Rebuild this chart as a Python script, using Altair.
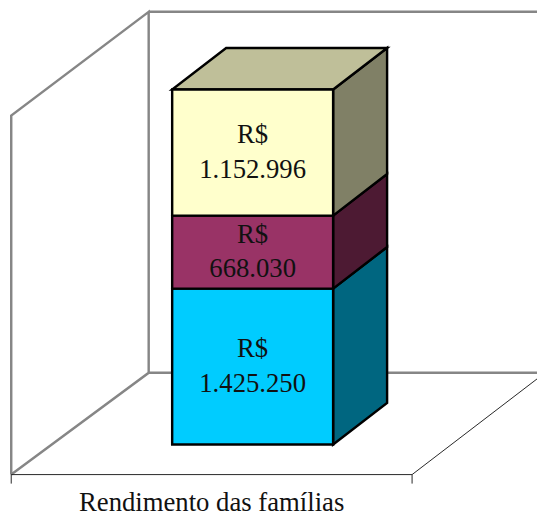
import altair as alt
import pandas as pd

# --- chart values ---
series = ["Base", "Meio", "Topo"]
values = [1425250, 668030, 1152996]
labels = ["R$\n1.425.250", "R$\n668.030", "R$\n1.152.996"]
axis_label = "Rendimento das famílias"

# --- styles ---
front_colors = ["#00CCFF", "#993366", "#FFFFCC"]
side_colors = ["#006680", "#4D1A33", "#808066"]
top_color = "#BFBF99"
wall_color = "#868686"

# --- projection geometry (reference pixels, with calibration) ---
W, H = 545, 516
SX, SY, OY = 1 / 0.971, 1 / 0.968, -7.5
px_ = lambda x: x * SX
py_ = lambda y: (y + OY) * SY

PX_PER_VALUE = (py_(443) - py_(89)) / sum(values)
BASE_Y = py_(443)
LEFT, RIGHT = 172, 333
DX, DY = 54, 41.5


def vy(ref_y):
    return (BASE_Y - py_(ref_y)) / PX_PER_VALUE


def vx(ref_x):
    return px_(ref_x) - 8


x_scale = alt.Scale(domain=[0, W], nice=False, zero=False)
y_scale = alt.Scale(domain=[(BASE_Y - (8 + H)) / PX_PER_VALUE, (BASE_Y - 8) / PX_PER_VALUE], nice=False, zero=False)
X = lambda f: alt.X(f, type="quantitative", scale=x_scale, axis=None)
Y = lambda f: alt.Y(f, type="quantitative", scale=y_scale, axis=None)

# stacked segments
d = DY * SY / PX_PER_VALUE
rows, side_rows, cum = [], [], 0
for s, v, l in zip(series, values, labels):
    rows.append(dict(s=s, x0=vx(LEFT), x1=vx(RIGHT), y0=cum, y1=cum + v,
                     ym=cum + v / 2, xm=vx((LEFT + RIGHT) / 2), label=l))
    side_rows.append(dict(s=s, x=vx(RIGHT), y0=cum, y1=cum + v))
    side_rows.append(dict(s=s, x=vx(RIGHT + DX), y0=cum + d, y1=cum + v + d))
    cum += v
front = pd.DataFrame(rows)
sides = pd.DataFrame(side_rows)
tops = pd.DataFrame([
    dict(y=cum, x0=vx(LEFT), x1=vx(RIGHT)),
    dict(y=cum + d, x0=vx(LEFT + DX), x1=vx(RIGHT + DX)),
])

color_front = alt.Color("s:N", scale=alt.Scale(domain=series, range=front_colors), legend=None)
color_side = alt.Color("s:N", scale=alt.Scale(domain=series, range=side_colors), legend=None)


def polyline(points, name):
    return [dict(g=name, o=i, x=vx(p[0]), y=vy(p[1])) for i, p in enumerate(points)]


walls = pd.DataFrame(
    polyline([(11, 473), (11, 115), (148.5, 11.5), (148.5, 371.5), (11, 473)], "left")
    + polyline([(148.5, 11.5), (545, 11.5)], "backtop")
    + polyline([(148.5, 371.5), (545, 371.5)], "backbottom")
)
floor = pd.DataFrame(
    polyline([(11, 473), (412, 473), (545, 371.5)], "edge")
    + polyline([(11, 473), (11, 482)], "t0")
    + polyline([(412, 473), (412, 482)], "t1")
)

wall_layer = alt.Chart(walls).mark_line(color=wall_color, strokeWidth=2.5).encode(
    x=X("x"), y=Y("y"), detail="g:N", order="o:Q")
floor_layer = alt.Chart(floor).mark_line(color="#222222", strokeWidth=1).encode(
    x=X("x"), y=Y("y"), detail="g:N", order="o:Q")
side_layer = alt.Chart(sides).mark_area(stroke="black", strokeWidth=2.5, opacity=1).encode(
    x=X("x"), y=Y("y0"), y2="y1:Q", color=color_side)
top_layer = alt.Chart(tops).mark_area(orient="horizontal", color=top_color, stroke="black", strokeWidth=2.5).encode(
    y=Y("y"), x=X("x0"), x2="x1:Q")
front_layer = alt.Chart(front).mark_rect(stroke="black", strokeWidth=2.5).encode(
    x=X("x0"), x2="x1:Q", y=Y("y0"), y2="y1:Q", color=color_front)
text_layer = alt.Chart(front).mark_text(
    font="Liberation Serif", fontSize=27.5, color="#111111", lineBreak="\n", lineHeight=35.5,
    baseline="middle", dy=-17.5
).encode(x=X("xm"), y=Y("ym"), text="label:N")
title_layer = alt.Chart(pd.DataFrame([dict(x=vx(211.5), y=vy(502), t=axis_label)])).mark_text(
    font="Liberation Serif", fontSize=27.5, color="#111111", baseline="middle"
).encode(x=X("x"), y=Y("y"), text="t:N")

chart = alt.layer(
    wall_layer, floor_layer, side_layer, top_layer, front_layer, text_layer, title_layer
).resolve_scale(color="independent").properties(
    width=W, height=H, padding=0, autosize=alt.AutoSizeParams(type="none")
).configure_view(stroke=None)

chart.save("out.html", embed_options={"renderer": "svg", "actions": False})
